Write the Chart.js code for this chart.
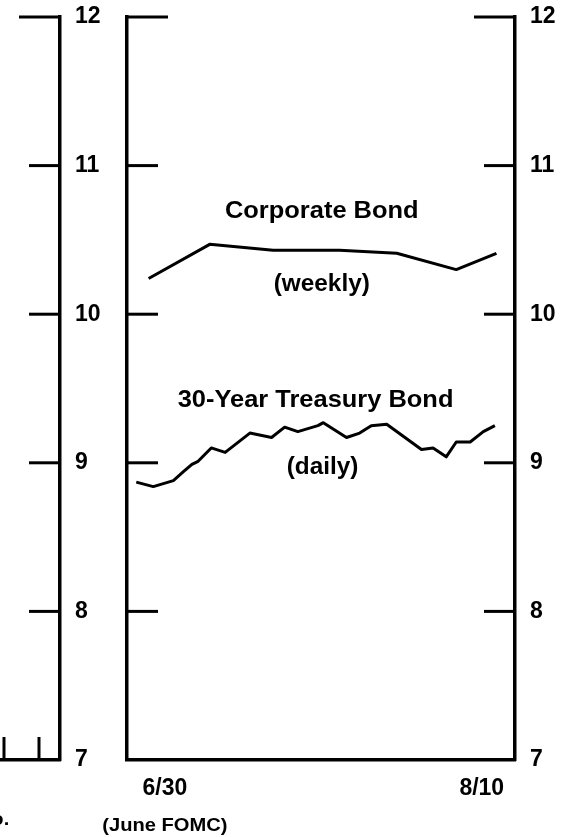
<!DOCTYPE html>
<html>
<head>
<meta charset="utf-8">
<script src="https://cdn.jsdelivr.net/npm/chart.js@4"></script>
<style>
html,body{margin:0;padding:0;background:#fff;}
#wrap{position:relative;width:569px;height:837px;overflow:hidden;}
canvas{position:absolute;left:0;top:0;}
</style>
</head>
<body>
<div id="wrap">
<canvas id="prev" width="120" height="837"></canvas>
<canvas id="main" width="569" height="837"></canvas>
</div>
<script>

// days counted from 6/30 (June FOMC)
let corpDays=[-2.1,5.8,14.0,22.6,30.0,37.7,42.9];
let corpYield=[10.24,10.47,10.43,10.43,10.41,10.30,10.41];

let tsyDays=[-3.7,-1.5,1.1,2.4,3.5,4.3,6.0,7.8,11.0,13.8,15.5,17.2,19.8,20.5,23.5,25.2,26.7,28.7,33.2,34.7,36.4,37.7,39.5,41.2,42.7];
let tsyYield=[8.87,8.84,8.88,8.94,8.99,9.01,9.10,9.07,9.20,9.17,9.24,9.21,9.25,9.27,9.17,9.20,9.25,9.26,9.09,9.10,9.04,9.14,9.14,9.21,9.25];

let xTickDays=[0,41];
let xTickLabels=["6/30","8/10"];

let yTicks=[7,8,9,10,11,12];

// earlier panel, only its right edge shows
let prevXTicks=[1,2];

let bold="'Liberation Sans', Arial, sans-serif";

let notes=[
{text:"Corporate Bond",x:20.3,y:10.69,size:24},
{text:"(weekly)",x:20.3,y:10.20,size:23},
{text:"30-Year Treasury Bond",x:19.5,y:9.42,size:24},
{text:"(daily)",x:20.4,y:8.97,size:23},
{text:"(June FOMC)",x:0,y:6.56,size:19}
];

let prevNotes=[
{text:"o.",x:1.15,y:6.60,size:19,align:"right"}
];

// short ticks drawn inside the frame
const innerTicks={
id:"innerTicks",
afterDatasetsDraw(chart,args,opts){

let ctx=chart.ctx;
let a=chart.chartArea;
let y=chart.scales.y;

ctx.save();
ctx.strokeStyle="#000";
ctx.lineWidth=3;

yTicks.forEach(v=>{

if(v==y.min) return;
let py=y.getPixelForValue(v);
let len=v==y.max?41:31;

opts.sides.forEach(s=>{
ctx.beginPath();
if(s=="left"){ctx.moveTo(a.left,py);ctx.lineTo(a.left+len,py);}
else{ctx.moveTo(a.right,py);ctx.lineTo(a.right-len,py);}
ctx.stroke();
});

});

(opts.xTicks||[]).forEach(v=>{
let px=chart.scales.x.getPixelForValue(v);
ctx.beginPath();
ctx.moveTo(px,a.bottom);
ctx.lineTo(px,a.bottom-23);
ctx.stroke();
});

ctx.restore();

}
};

const notesPlugin={
id:"notes",
afterDraw(chart,args,opts){

let ctx=chart.ctx;
ctx.save();
ctx.fillStyle="#000";
ctx.textBaseline="middle";

opts.items.forEach(n=>{
let px=chart.scales.x.getPixelForValue(n.x);
let py=chart.scales.y.getPixelForValue(n.y);
ctx.font="bold "+n.size+"px "+bold;
ctx.textAlign=n.align||"center";
ctx.save();
ctx.translate(px,py);
ctx.scale(1.06,1);
ctx.fillText(n.text,0,0);
ctx.restore();
});

ctx.restore();

}
};

let frame={display:true,width:3.5,color:"#000"};

// stop the labels from pushing the frame down
function fitY(w){
return s=>{s.width=w;s.paddingTop=0;s.paddingBottom=0;};
}

new Chart(document.getElementById("main"),{

type:"line",

data:{

datasets:[{

label:"Corporate Bond",
data:corpDays.map((d,i)=>({x:d,y:corpYield[i]})),
yAxisID:"y",
borderColor:"#000",
borderWidth:3,
borderJoinStyle:"round",
pointRadius:0,
tension:0

},{

label:"30-Year Treasury Bond",
data:tsyDays.map((d,i)=>({x:d,y:tsyYield[i]})),
yAxisID:"y",
borderColor:"#000",
borderWidth:3,
borderJoinStyle:"round",
pointRadius:0,
tension:0

}]

},

options:{

responsive:false,
animation:false,
devicePixelRatio:1,
layout:{padding:{left:127,top:17,right:0,bottom:0}},

plugins:{
legend:{display:false},
tooltip:{enabled:false},
innerTicks:{sides:["left","right"]},
notes:{items:notes}
},

scales:{

x:{
type:"linear",
min:-4.9,
max:45.3,
grid:{display:false,drawTicks:false},
border:frame,
afterBuildTicks:s=>{s.ticks=xTickDays.map(v=>({value:v}));},
afterFit:s=>{s.height=77;s.paddingLeft=0;s.paddingRight=0;},
ticks:{
autoSkip:false,
maxRotation:0,
padding:15,
color:"#000",
font:{family:bold,size:23,weight:"bold"},
callback:v=>xTickLabels[xTickDays.indexOf(v)]
}
},

yL:{
position:"left",
min:7,
max:12,
grid:{display:false,drawTicks:false},
border:frame,
ticks:{display:false},
afterFit:fitY(0)
},

y:{
position:"right",
min:7,
max:12,
grid:{display:false,drawTicks:false},
border:frame,
afterFit:fitY(54),
ticks:{
stepSize:1,
padding:15,
color:"#000",
font:{family:bold,size:23,weight:"bold"}
}
}

}

},

plugins:[innerTicks,notesPlugin]

});

new Chart(document.getElementById("prev"),{

type:"line",

data:{datasets:[{data:[],yAxisID:"y"}]},

options:{

responsive:false,
animation:false,
devicePixelRatio:1,
layout:{padding:{left:0,top:17,right:0,bottom:0}},

plugins:{
legend:{display:false},
tooltip:{enabled:false},
innerTicks:{sides:["right"],xTicks:prevXTicks},
notes:{items:prevNotes}
},

scales:{

x:{
type:"linear",
min:0.886,
max:2.6,
grid:{display:false,drawTicks:false},
border:frame,
ticks:{display:false},
afterFit:s=>{s.height=77;s.paddingLeft=0;s.paddingRight=0;}
},

y:{
position:"right",
min:7,
max:12,
grid:{display:false,drawTicks:false},
border:frame,
afterFit:fitY(60),
ticks:{
stepSize:1,
padding:15,
color:"#000",
font:{family:bold,size:23,weight:"bold"}
}
}

}

},

plugins:[innerTicks,notesPlugin]

});

</script>
</body>
</html>
